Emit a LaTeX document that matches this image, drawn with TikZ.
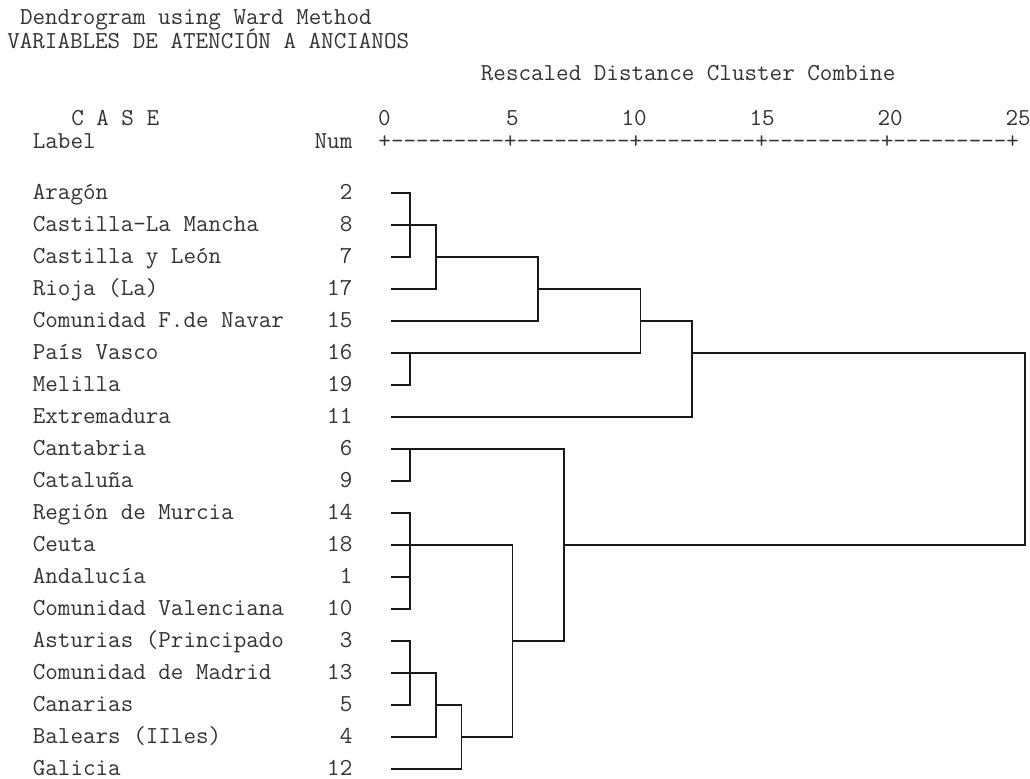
\documentclass[tikz,border=0pt]{standalone}
\usepackage{fontspec}
\begin{document}
\begin{tikzpicture}[x=9.6pt, y=-24pt,
    txt/.style={font=\ttfamily\fontsize{18.29}{18}\selectfont, text=black!80, inner sep=0pt},
    link/.style={line width=1.3pt, black!90}]
  \useasboundingbox (-0.547,-6.031) rectangle (79.92,18.281);

  % headings
  \node[txt, anchor=base west] (title)    at (1,-5.28)  {Dendrogram using Ward Method};
  \node[txt, anchor=base west] (subtitle) at (0,-4.5)   {VARIABLES DE ATENCIÓN A ANCIANOS};
  \node[txt, anchor=base west] (axis)     at (37,-3.5)  {Rescaled Distance Cluster Combine};
  \node[txt, anchor=base west] (casehead) at (5,-2.1)   {C A S E};
  \foreach \v/\c in {0/30,5/40,10/50,15/60,20/70,25/80}
    \node[txt, anchor=base east] (tick\v) at (\c,-2.1) {\v};
  \node[txt, anchor=base west] (labhead)  at (2,-1.38)  {Label};
  \node[txt, anchor=base east] (numhead)  at (27,-1.38) {Num};
  \node[txt, anchor=base west] (ruler)    at (29,-1.38)
    {+---------+---------+---------+---------+---------+};

  % cases
  \foreach \name/\num [count=\i from 0] in {Aragón/2, Castilla-La Mancha/8,
      Castilla y León/7, {Rioja (La)}/17, Comunidad F.de Navar/15, País Vasco/16,
      Melilla/19, Extremadura/11, Cantabria/6, Cataluña/9, Región de Murcia/14,
      Ceuta/18, Andalucía/1, Comunidad Valenciana/10, {Asturias (Principado}/3,
      Comunidad de Madrid/13, Canarias/5, {Balears (IIles)}/4, Galicia/12} {
    \node[txt, anchor=base west] (lab\i) at (2,\i+0.21)  {\name};
    \node[txt, anchor=base east] (num\i) at (27,\i+0.21) {\num};
    \coordinate (l\i) at (30,\i);
  }

  % upper branch
  \draw[link] (l0) -| (31.5,2) -- (l2);
  \draw[link] (l1) -| (33.5,3) -- (l3);
  \draw[link] (33.5,2) -| (41.5,4) -- (l4);
  \draw[link] (l6) -| (31.5,5);
  \draw[link] (41.5,3) -| (49.5,5) -- (l5);
  \draw[link] (49.5,4) -| (53.5,7) -- (l7);

  % lower branch
  \draw[link] (l9) -| (31.5,8);
  \draw[link] (l10) -| (31.5,13) -- (l13);
  \draw[link] (l12) -- (31.5,12);
  \draw[link] (l14) -| (31.5,16) -- (l16);
  \draw[link] (l15) -| (33.5,17) -- (l17);
  \draw[link] (33.5,16) -| (35.5,18) -- (l18);
  \draw[link] (l11) -| (39.5,17) -- (35.5,17);
  \draw[link] (l8) -| (43.5,14) -- (39.5,14);

  % last join
  \draw[link] (53.5,5) -| (79.5,11) -- (43.5,11);
\end{tikzpicture}
\end{document}
